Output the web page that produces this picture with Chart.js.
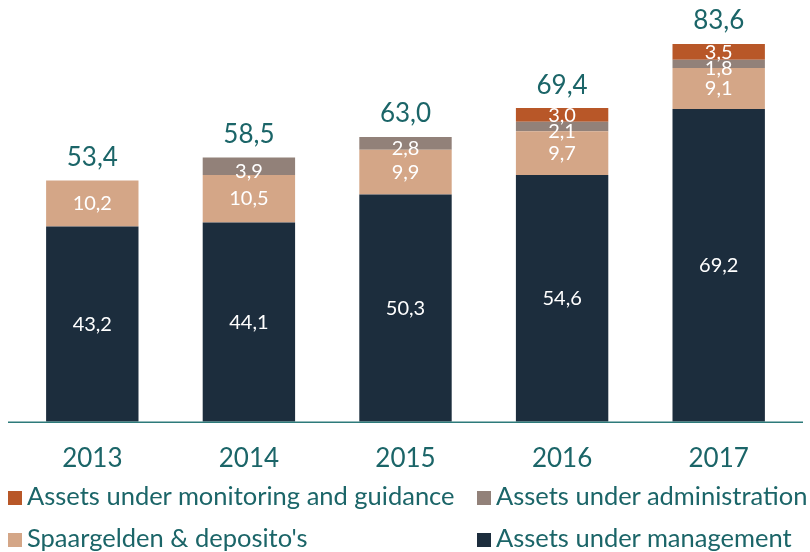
<!DOCTYPE html>
<html>
<head>
<meta charset="utf-8">
<script src="https://cdn.jsdelivr.net/npm/chart.js@4"></script>
<style>
  body { margin: 0; background: #fff; }
  #wrap { position: relative; width: 810px; height: 552px; }
  #legend { position: absolute; left: 0; top: 475px; width: 810px; font-family: Lato, sans-serif; font-size: 25.5px; color: #1b6568; }
  .item { position: absolute; white-space: nowrap; line-height: 40px; }
  .box { display: inline-block; width: 14px; height: 14px; margin-right: 5px; vertical-align: 0px; }
</style>
</head>
<body>
<div id="wrap">
  <canvas id="chart" width="810" height="552"></canvas>
  <div id="legend"></div>
</div>
<script>
const years = ['2013', '2014', '2015', '2016', '2017'];
const management = [43.2, 44.1, 50.3, 54.6, 69.2];
const spaargelden = [10.2, 10.5, 9.9, 9.7, 9.1];
const administration = [null, 3.9, 2.8, 2.1, 1.8];
const monitoring = [null, null, null, 3.0, 3.5];
const totals = [53.4, 58.5, 63.0, 69.4, 83.6];

const teal = '#1b6568';
const fmt = (v) => v.toFixed(1).replace('.', ',');

// labels inside the segments + totals above the bars + baseline
const barLabels = {
	id: 'barLabels',
	afterDatasetsDraw(chart) {
		const ctx = chart.ctx;
		ctx.save();
		ctx.textAlign = 'center';
		ctx.textBaseline = 'middle';
		ctx.font = '20px Lato';
		ctx.fillStyle = '#ffffff';
		chart.data.datasets.forEach((ds, i) => {
			const meta = chart.getDatasetMeta(i);
			meta.data.forEach((bar, j) => {
				const v = ds.data[j];
				if (v == null) return;
				const y = (bar.y + bar.base) / 2 + (ds.labelShift || 0);
				ctx.fillText(fmt(v), bar.x, y);
			});
		});
		// totals
		const first = chart.getDatasetMeta(0);
		ctx.font = '26px Lato';
		ctx.fillStyle = teal;
		ctx.textBaseline = 'bottom';
		totals.forEach((t, j) => {
			const x = first.data[j].x;
			const y = chart.scales.y.getPixelForValue(t);
			ctx.fillText(fmt(t), x, y - 10);
		});
		// x axis line
		const area = chart.chartArea;
		ctx.strokeStyle = '#2d7a7a';
		ctx.lineWidth = 1.5;
		ctx.beginPath();
		ctx.moveTo(8, area.bottom + 0.5);
		ctx.lineTo(803, area.bottom + 0.5);
		ctx.stroke();
		ctx.restore();
	}
};

const ctx = document.getElementById('chart');
const chart = new Chart(ctx, {
	type: 'bar',
	data: {
		labels: years,
		datasets: [
			{ label: 'Assets under management', data: management, backgroundColor: '#1c2d3d' },
			{ label: "Spaargelden & deposito's", data: spaargelden, backgroundColor: '#d4a687' },
			{ label: 'Assets under administration', data: administration, backgroundColor: '#928179', labelShift: 5 },
			{ label: 'Assets under monitoring and guidance', data: monitoring, backgroundColor: '#b85728', labelShift: 1 },
		],
	},
	options: {
		responsive: false,
		animation: false,
		layout: { padding: { left: 14, right: 13, top: 15, bottom: 65 } },
		datasets: { bar: { barPercentage: 0.59, categoryPercentage: 1 } },
		plugins: { legend: { display: false }, tooltip: { enabled: false } },
		scales: {
			x: {
				stacked: true,
				grid: { display: false },
				border: { display: false },
				ticks: { color: teal, font: { family: 'Lato', size: 26 }, padding: 13 },
			},
			y: {
				stacked: true,
				display: false,
				min: 0,
				max: 90,
			},
		},
	},
	plugins: [barLabels],
});

// html legend, two columns, top series first
const legend = document.getElementById('legend');
const spots = [[8, 0], [477, 0], [8, 42], [477, 42]];
chart.data.datasets.slice().reverse().forEach((ds, i) => {
	const el = document.createElement('div');
	el.className = 'item';
	el.style.left = spots[i][0] + 'px';
	el.style.top = spots[i][1] + 'px';
	el.innerHTML = '<span class="box" style="background:' + ds.backgroundColor + '"></span>';
	el.appendChild(document.createTextNode(ds.label));
	legend.appendChild(el);
});
</script>
</body>
</html>
